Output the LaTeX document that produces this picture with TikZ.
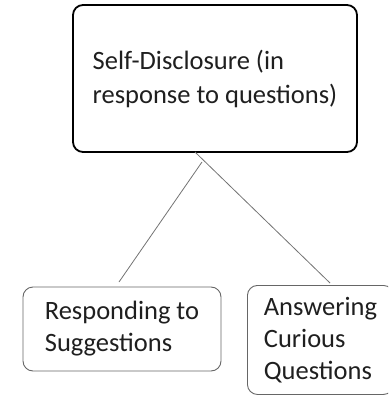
\documentclass[tikz,border=0pt]{standalone}
\usepackage{fontspec}
\setmainfont{Carlito}
\begin{document}
\begin{tikzpicture}[x=1pt,y=-1pt,
  topbox/.style={draw=black,line width=1.8pt,rounded corners=10pt,align=left,
    font=\fontsize{26.5}{34}\selectfont,text=black!88,inner sep=0pt},
  subbox/.style={draw=black!60,line width=0.9pt,rounded corners=10pt,align=left,
    font=\fontsize{26.5}{32}\selectfont,text=black!88,inner sep=0pt},
  link/.style={draw=black!55,line width=0.8pt}]
\useasboundingbox (0,0) rectangle (388,398);
\clip (0,0) rectangle (388,398);
\node[topbox,minimum width=284pt,minimum height=147pt] (top) at (215,78.5)
  {Self-Disclosure (in\\response to questions)};
\node[subbox,minimum width=198pt,minimum height=84pt] (resp) at (122,329)
  {Responding to\\Suggestions};
\node[subbox,minimum width=146pt,minimum height=109pt,anchor=north west] (ans) at (247,285)
  {Answering\\Curious\\Questions};
\coordinate (j) at (202,162);
\coordinate (rt) at (195,152);
\coordinate (lb) at (119,282);
\coordinate (rb) at (330,283);
\draw[link] (rt) -- (rb);
\draw[link] (j) -- (lb);
\end{tikzpicture}
\end{document}
